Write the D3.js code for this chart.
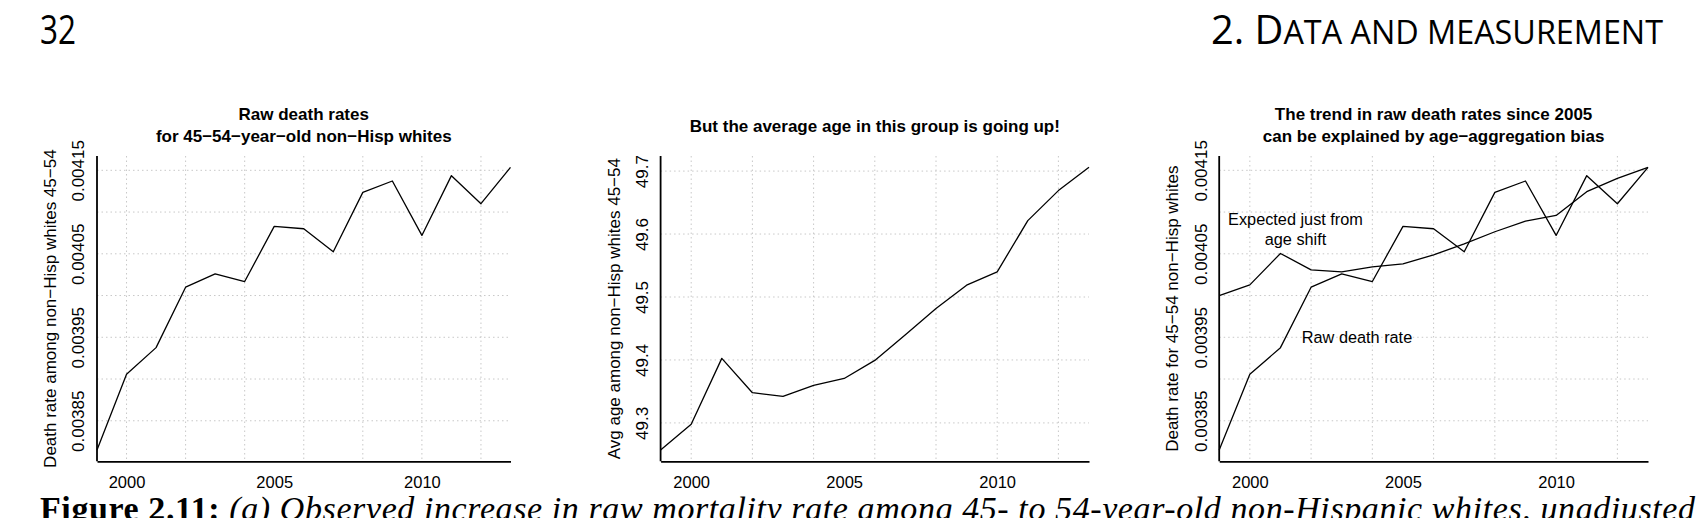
<!DOCTYPE html>
<html>
<head>
<meta charset="utf-8">
<script src="https://cdn.jsdelivr.net/npm/d3@7"></script>
<style>
  html, body { margin: 0; padding: 0; background: #fff; }
  svg { display: block; }
</style>
</head>
<body>
<svg id="chart" width="1700" height="518"></svg>
<script>
// ---------------- DATA ----------------
const years = [1999, 2000, 2001, 2002, 2003, 2004, 2005, 2006, 2007, 2008, 2009, 2010, 2011, 2012, 2013];
const rawDeathRate = [0.003815, 0.0039056, 0.0039376, 0.00401, 0.004026, 0.0040168, 0.0040828, 0.00408,
                      0.0040524, 0.0041236, 0.0041372, 0.004072, 0.0041436, 0.00411, 0.0041536];
const avgAge = [49.257, 49.298, 49.4025, 49.348, 49.342, 49.3595, 49.3706, 49.3993,
                49.440, 49.4816, 49.5188, 49.540, 49.6213, 49.669, 49.706];
const expectedRate = [0.0040, 0.0040128, 0.0040504, 0.0040308, 0.0040284, 0.0040344, 0.004038, 0.0040488,
                      0.004062, 0.0040764, 0.0040892, 0.004096, 0.0041244, 0.0041404, 0.0041536];

const yearTickValues = [2000, 2005, 2010];
const yearGridValues = [2000, 2002, 2004, 2006, 2008, 2010, 2012];
const rateGridValues = [0.00385, 0.0039, 0.00395, 0.004, 0.00405, 0.0041, 0.00415];
const rateTickValues = [0.00385, 0.00395, 0.00405, 0.00415];
const rateTickLabels = ["0.00385", "0.00395", "0.00405", "0.00415"];
const ageGridValues = [49.3, 49.4, 49.5, 49.6, 49.7];
const ageTickLabels = ["49.3", "49.4", "49.5", "49.6", "49.7"];

const titles1 = ["Raw death rates", "for 45\u221254\u2212year\u2212old non\u2212Hisp whites"];
const titles2 = ["But the average age in this group is going up!"];
const titles3 = ["The trend in raw death rates since 2005", "can be explained by age\u2212aggregation bias"];
const ylab1 = "Death rate among non\u2212Hisp whites 45\u221254";
const ylab2 = "Avg age among non\u2212Hisp whites 45\u221254";
const ylab3 = "Death rate for 45\u221254 non\u2212Hisp whites";
const annExpected = ["Expected just from", "age shift"];
const annRaw = "Raw death rate";

const pageNumber = "32";
const chapterBig = "2. D";
const chapterSmall = "ATA AND MEASUREMENT";
const captionBold = "Figure 2.11:";
const captionText = " (a) Observed increase in raw mortality rate among 45- to 54-year-old non-Hispanic whites, unadjusted";

// ---------------- LAYOUT ----------------
const svg = d3.select("#chart");
const FONT = "'Liberation Sans', Arial, Helvetica, sans-serif";
const TOP = 156, BOTTOM = 461.3;

// R-style 4% padding of the data range
function padExtent(arr) {
  const [a, b] = d3.extent(arr);
  const p = (b - a) * 0.04;
  return [a - p, b + p];
}

function panel(opts) {
  const x = d3.scaleLinear().domain([years[0], years[years.length - 1]]).range([opts.left, opts.right]);
  const y = d3.scaleLinear().domain(opts.yDomain).range([BOTTOM, TOP]);
  const g = svg.append("g");

  // grid
  g.append("g").selectAll("line.h").data(opts.yGrid).join("line")
    .attr("x1", opts.left).attr("x2", opts.right)
    .attr("y1", d => y(d)).attr("y2", d => y(d))
    .attr("stroke", "#c8c8c8").attr("stroke-width", 1).attr("stroke-dasharray", "1.5,3");
  g.append("g").selectAll("line.v").data(yearGridValues).join("line")
    .attr("x1", d => x(d)).attr("x2", d => x(d))
    .attr("y1", TOP).attr("y2", BOTTOM)
    .attr("stroke", "#c8c8c8").attr("stroke-width", 1).attr("stroke-dasharray", "1.5,3");

  // x axis
  const xa = g.append("g").attr("transform", `translate(0,${BOTTOM})`)
    .call(d3.axisBottom(x).tickValues(yearTickValues).tickFormat(d3.format("d")).tickSize(0).tickSizeOuter(0));
  xa.select(".domain").attr("stroke", "#000").attr("stroke-width", 1.8);
  xa.selectAll("text").attr("y", 27).attr("dy", null)
    .attr("font-family", FONT).attr("font-size", 16.5).attr("fill", "#000");

  // y axis
  const ya = g.append("g").attr("transform", `translate(${opts.left},0)`)
    .call(d3.axisLeft(y).tickValues(opts.yTicks).tickFormat((d, i) => opts.yLabels[i]).tickSize(0).tickSizeOuter(0));
  ya.select(".domain").attr("stroke", "#000").attr("stroke-width", 1.8)
    .attr("d", `M0,${TOP}V${BOTTOM}`);
  ya.selectAll("text").attr("x", null).attr("dy", null)
    .attr("transform", `translate(${opts.tickOff},0) rotate(-90)`)
    .attr("text-anchor", "middle")
    .attr("font-family", FONT).attr("font-size", 17).attr("fill", "#000");

  // y label
  g.append("text")
    .attr("transform", `translate(${opts.left - 41},${(TOP + BOTTOM) / 2}) rotate(-90)`)
    .attr("text-anchor", "middle")
    .attr("font-family", FONT).attr("font-size", 17)
    .text(opts.ylab);

  // title
  const cx = (opts.left + opts.right) / 2;
  const tLines = opts.titles;
  const baselines = tLines.length === 2 ? [120, 141.7] : [131.5];
  tLines.forEach((t, i) => {
    g.append("text").attr("x", cx).attr("y", baselines[i])
      .attr("text-anchor", "middle")
      .attr("font-family", FONT).attr("font-size", 17).attr("font-weight", "bold")
      .text(t);
  });

  // lines
  const line = d3.line().x((d, i) => x(years[i])).y(d => y(d));
  opts.series.forEach(s => {
    g.append("path").datum(s)
      .attr("d", line)
      .attr("fill", "none").attr("stroke", "#000").attr("stroke-width", 1.3)
      .attr("stroke-linejoin", "round");
  });
  return { g, x, y };
}

const rateDomain = padExtent(rawDeathRate.concat(expectedRate));

panel({ left: 97, right: 510.5, yDomain: padExtent(rawDeathRate), yGrid: rateGridValues,
        yTicks: rateTickValues, yLabels: rateTickLabels, tickOff: -13,
        ylab: ylab1, titles: titles1, series: [rawDeathRate] });

panel({ left: 660.6, right: 1089, yDomain: padExtent(avgAge), yGrid: ageGridValues,
        yTicks: ageGridValues, yLabels: ageTickLabels, tickOff: -12.5,
        ylab: ylab2, titles: titles2, series: [avgAge] });

const p3 = panel({ left: 1219.2, right: 1648, yDomain: rateDomain, yGrid: rateGridValues,
        yTicks: rateTickValues, yLabels: rateTickLabels, tickOff: -12,
        ylab: ylab3, titles: titles3, series: [rawDeathRate, expectedRate] });

// annotations in panel 3
annExpected.forEach((t, i) => {
  p3.g.append("text").attr("x", 1295.5).attr("y", [225.3, 244.5][i])
    .attr("text-anchor", "middle").attr("font-family", FONT).attr("font-size", 16.3).text(t);
});
p3.g.append("text").attr("x", 1357).attr("y", 343.3)
  .attr("text-anchor", "middle").attr("font-family", FONT).attr("font-size", 16.3).text(annRaw);

// ---------------- PAGE DECORATION ----------------
const HEAD = "'Open Sans', 'Noto Sans', sans-serif";
svg.append("text").attr("x", 40).attr("y", 44)
  .attr("font-family", HEAD).attr("font-size", 40)
  .attr("textLength", 36).attr("lengthAdjust", "spacingAndGlyphs")
  .text(pageNumber);

const hdr = svg.append("text").attr("x", 1211).attr("y", 44)
  .attr("font-family", HEAD)
  .attr("textLength", 452).attr("lengthAdjust", "spacingAndGlyphs");
hdr.append("tspan").attr("font-size", 40).text(chapterBig);
hdr.append("tspan").attr("font-size", 32.5).text(chapterSmall);

const cap = svg.append("text").attr("x", 40).attr("y", 520)
  .attr("font-family", "'Liberation Serif', 'DejaVu Serif', serif").attr("font-size", 34)
  .attr("textLength", 1655).attr("lengthAdjust", "spacing");
cap.append("tspan").attr("font-weight", "bold").text(captionBold);
cap.append("tspan").attr("font-style", "italic").text(captionText);
</script>
</body>
</html>
